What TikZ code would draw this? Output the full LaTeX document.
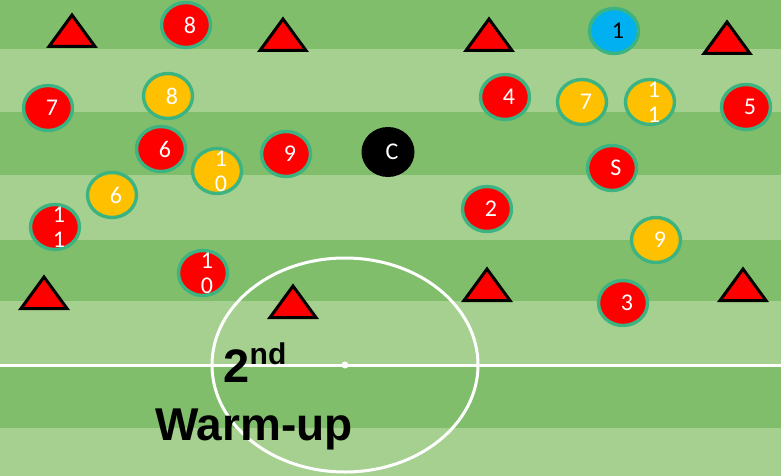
\documentclass[tikz,border=0pt]{standalone}
\usepackage{fontspec}
\setmainfont{Liberation Sans}
\newfontfamily\numfont{Carlito}
\usetikzlibrary{shapes.geometric}
\definecolor{pitchdark}{RGB}{128,190,108}
\definecolor{pitchlight}{RGB}{166,208,144}
\definecolor{ringgreen}{RGB}{60,180,130}
\definecolor{teamyellow}{RGB}{255,192,0}
\definecolor{keeperblue}{RGB}{0,176,240}

\begin{document}
\begin{tikzpicture}[x=1pt, y=-1pt,
					player/.style={ellipse, draw=ringgreen, line width=3.4pt, minimum width=49pt, minimum height=45pt, inner sep=0pt},
					num/.style={font=\numfont\fontsize{24}{25}\selectfont, text=white, align=center, inner sep=0pt, xshift=4pt},
					cone/.style={fill=red, draw=black, line width=3pt, line join=miter}]
					\useasboundingbox (0,0) rectangle (781,476);
					% Rasen in Streifen
					\fill[pitchlight] (0,0) rectangle (781,476);
					\foreach \a/\b in {0/49,112/175,240/301,365/428} \fill[pitchdark] (0,\a) rectangle (781,\b);
					% Mittellinie und Mittelkreis
					\draw[white, line width=3pt] (0,365) -- (781,365);
					\draw[white, line width=3pt] (345,365) ellipse [x radius=133, y radius=107];
					\fill[white] (345,365) circle (3.5pt);
					% Huetchen
					\foreach \x/\y in {72/48,283/52,489/52,727/55,44/310,293/319,487/302,743/302}
						\draw[cone] (\x-23,\y-1.5) -- (\x,\y-33) -- (\x+23,\y-1.5) -- cycle;
					% rote Mannschaft
					\foreach \n/\x/\y/\t in {r8/186/25/8, r7/48/108/7, r6/161/149/6, r9/286/154/9, r11/55/227/{1\\1}, r10/203/273/{1\\0},
						r4/505/97/4, r5/746/107/5, rs/612/168/S, r2/487/209/2, r3/623/303/3}
						\node[player, fill=red, label={[num]center:\t}] (\n) at (\x,\y) {};
					% gelbe Mannschaft
					\foreach \n/\x/\y/\t in {y8/168/96/8, y10/217/171/{1\\0}, y6/112/195/6, y7/582/102/7, y11/650/102/{1\\1}, y9/656/240/9}
						\node[player, fill=teamyellow, label={[num]center:\t}] (\n) at (\x,\y) {};
					% Torwart und Ball
					\node[player, fill=keeperblue, label={[num, text=black]center:1}] (keeper) at (614,31) {};
					\node[ellipse, fill=black, minimum width=53pt, minimum height=50pt, label={[num]center:C}] (ball) at (388,152) {};
					% Beschriftung
					\node[font=\bfseries\fontsize{47}{47}\selectfont, anchor=base, inner sep=0pt] (second) at (255,382) {2\raisebox{18pt}{\fontsize{30}{30}\selectfont nd}};
					\node[font=\bfseries\fontsize{46}{46}\selectfont, anchor=base, inner sep=0pt] (warmup) at (254,440) {Warm-up};
				\end{tikzpicture}
\end{document}
